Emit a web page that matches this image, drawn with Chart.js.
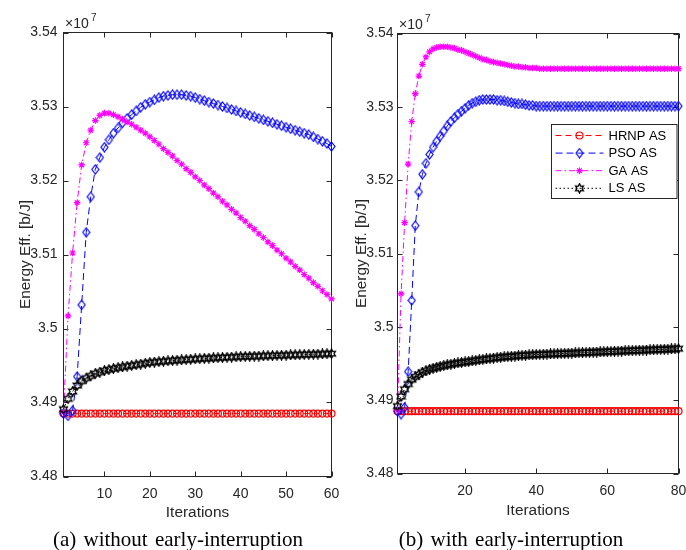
<!DOCTYPE html>
<html>
<head>
<meta charset="utf-8">
<script src="https://cdn.jsdelivr.net/npm/chart.js@4.4.1/dist/chart.umd.min.js"></script>
<style>
  body { margin: 0; background: #fff; }
  #page { position: relative; width: 686px; height: 550px; overflow: hidden; background: #fff; }
  #page canvas { position: absolute; top: 0; }
  #chartA { left: 0; }
  #chartB { left: 343px; }
  .caption {
    position: absolute; top: 529px; width: 300px;
    font-family: "Liberation Serif", "Times New Roman", serif;
    font-size: 21px; line-height: 21px; word-spacing: 2px;
    white-space: nowrap; text-align: center; color: #000;
  }
</style>
</head>
<body>
<div id="page">
  <canvas id="chartA" width="343" height="550"></canvas>
  <canvas id="chartB" width="343" height="550"></canvas>
  <div class="caption" style="left:28px">(a) without early-interruption</div>
  <div class="caption" style="left:361px">(b) with early-interruption</div>
</div>
<script>
// values in units of 1e7 b/J
const seriesNames = ['HRNP AS', 'PSO AS', 'GA AS', 'LS AS'];

const yTicks = [3.48, 3.49, 3.50, 3.51, 3.52, 3.53, 3.54];
const yTickLabels = ['3.48', '3.49', '3.5', '3.51', '3.52', '3.53', '3.54'];
const xTicksA = [10, 20, 30, 40, 50, 60];
const xTickLabelsA = ['10', '20', '30', '40', '50', '60'];
const xTicksB = [20, 40, 60, 80];
const xTickLabelsB = ['20', '40', '60', '80'];

// (a) without early-interruption, 60 iterations
const hrnpA = [
  3.4885, 3.4885, 3.4885, 3.4885, 3.4885, 3.4885, 3.4885, 3.4885, 3.4885, 3.4885,
  3.4885, 3.4885, 3.4885, 3.4885, 3.4885, 3.4885, 3.4885, 3.4885, 3.4885, 3.4885,
  3.4885, 3.4885, 3.4885, 3.4885, 3.4885, 3.4885, 3.4885, 3.4885, 3.4885, 3.4885,
  3.4885, 3.4885, 3.4885, 3.4885, 3.4885, 3.4885, 3.4885, 3.4885, 3.4885, 3.4885,
  3.4885, 3.4885, 3.4885, 3.4885, 3.4885, 3.4885, 3.4885, 3.4885, 3.4885, 3.4885,
  3.4885, 3.4885, 3.4885, 3.4885, 3.4885, 3.4885, 3.4885, 3.4885, 3.4885, 3.4885
];
const psoA = [
  3.4885, 3.4882, 3.4889, 3.4935, 3.5032, 3.5130, 3.5178, 3.5215, 3.5231, 3.5245,
  3.5255, 3.5264, 3.5271, 3.5278, 3.5284, 3.5289, 3.5294, 3.5299, 3.5303, 3.5306,
  3.5309, 3.5312, 3.5314, 3.5315, 3.5316, 3.5316, 3.5316, 3.5315, 3.5314, 3.5312,
  3.5310, 3.5308, 3.5306, 3.5304, 3.5302, 3.5300, 3.5298, 3.5296, 3.5294, 3.5292,
  3.5290, 3.5288, 3.5286, 3.5284, 3.5282, 3.5280, 3.5278, 3.5276, 3.5274, 3.5272,
  3.5270, 3.5268, 3.5266, 3.5264, 3.5262, 3.5259, 3.5256, 3.5253, 3.5250, 3.5246
];
const gaA = [
  3.4887, 3.5017, 3.5102, 3.5170, 3.5221, 3.5251, 3.5268, 3.5281, 3.5288, 3.5291,
  3.5291, 3.5289, 3.5286, 3.5283, 3.5279, 3.5276, 3.5272, 3.5268, 3.5264, 3.5259,
  3.5254, 3.5249, 3.5243, 3.5238, 3.5233, 3.5227, 3.5222, 3.5216, 3.5211, 3.5205,
  3.5200, 3.5194, 3.5189, 3.5183, 3.5178, 3.5172, 3.5167, 3.5161, 3.5156, 3.5150,
  3.5145, 3.5139, 3.5134, 3.5128, 3.5123, 3.5117, 3.5112, 3.5106, 3.5101, 3.5095,
  3.5090, 3.5084, 3.5079, 3.5073, 3.5068, 3.5062, 3.5057, 3.5051, 3.5046, 3.5040
];
const lsA = [
  3.4891, 3.4905, 3.4915, 3.4923, 3.4929, 3.4933, 3.4936, 3.4939, 3.4941, 3.4943,
  3.49445, 3.49458, 3.49470, 3.49481, 3.49491, 3.49500, 3.49510, 3.49520, 3.49530, 3.49540,
  3.49546, 3.49552, 3.49557, 3.49562, 3.49567, 3.49572, 3.49576, 3.49580, 3.49584, 3.49588,
  3.49592, 3.49596, 3.49599, 3.49602, 3.49605, 3.49608, 3.49611, 3.49614, 3.49617, 3.49620,
  3.49622, 3.49624, 3.49626, 3.49628, 3.49630, 3.49632, 3.49634, 3.49636, 3.49638, 3.49640,
  3.49642, 3.49644, 3.49646, 3.49648, 3.49650, 3.49652, 3.49654, 3.49656, 3.49658, 3.49660
];

// (b) with early-interruption, 80 iterations
const hrnpB = [
  3.4885, 3.4885, 3.4885, 3.4885, 3.4885, 3.4885, 3.4885, 3.4885, 3.4885, 3.4885,
  3.4885, 3.4885, 3.4885, 3.4885, 3.4885, 3.4885, 3.4885, 3.4885, 3.4885, 3.4885,
  3.4885, 3.4885, 3.4885, 3.4885, 3.4885, 3.4885, 3.4885, 3.4885, 3.4885, 3.4885,
  3.4885, 3.4885, 3.4885, 3.4885, 3.4885, 3.4885, 3.4885, 3.4885, 3.4885, 3.4885,
  3.4885, 3.4885, 3.4885, 3.4885, 3.4885, 3.4885, 3.4885, 3.4885, 3.4885, 3.4885,
  3.4885, 3.4885, 3.4885, 3.4885, 3.4885, 3.4885, 3.4885, 3.4885, 3.4885, 3.4885,
  3.4885, 3.4885, 3.4885, 3.4885, 3.4885, 3.4885, 3.4885, 3.4885, 3.4885, 3.4885,
  3.4885, 3.4885, 3.4885, 3.4885, 3.4885, 3.4885, 3.4885, 3.4885, 3.4885, 3.4885
];
const psoB = [
  3.4885, 3.4881, 3.4890, 3.4939, 3.5036, 3.5138, 3.5184, 3.5208, 3.5223, 3.5235,
  3.5245, 3.5253, 3.5260, 3.5267, 3.5274, 3.5280, 3.5285, 3.5290, 3.5294, 3.5298,
  3.5302, 3.5305, 3.5307, 3.5309, 3.5310, 3.5310, 3.5310, 3.5310, 3.5309, 3.5309,
  3.5308, 3.5307, 3.5306, 3.5305, 3.5304, 3.5304, 3.5303, 3.5302, 3.5302, 3.5301,
  3.5301, 3.5301, 3.5301, 3.5301, 3.5301, 3.5301, 3.5301, 3.5301, 3.5301, 3.5301,
  3.5301, 3.5301, 3.5301, 3.5301, 3.5301, 3.5301, 3.5301, 3.5301, 3.5301, 3.5301,
  3.5301, 3.5301, 3.5301, 3.5301, 3.5301, 3.5301, 3.5301, 3.5301, 3.5301, 3.5301,
  3.5301, 3.5301, 3.5301, 3.5301, 3.5301, 3.5301, 3.5301, 3.5301, 3.5301, 3.5301
];
const gaB = [
  3.4886, 3.5045, 3.5142, 3.5222, 3.5280, 3.5318, 3.5342, 3.5358, 3.5368, 3.5375,
  3.5379, 3.5381, 3.5382, 3.5382, 3.5382, 3.5381, 3.5380, 3.5378, 3.5377, 3.5375,
  3.5373, 3.5371, 3.5369, 3.5367, 3.5365, 3.5364, 3.5362, 3.5361, 3.5360, 3.5359,
  3.5358, 3.5357, 3.5356, 3.5355, 3.5355, 3.5354, 3.5354, 3.5353, 3.5353, 3.5353,
  3.5352, 3.5352, 3.5352, 3.5352, 3.5352, 3.5352, 3.5352, 3.5352, 3.5352, 3.5352,
  3.5352, 3.5352, 3.5352, 3.5352, 3.5352, 3.5352, 3.5352, 3.5352, 3.5352, 3.5352,
  3.5352, 3.5352, 3.5352, 3.5352, 3.5352, 3.5352, 3.5352, 3.5352, 3.5352, 3.5352,
  3.5352, 3.5352, 3.5352, 3.5352, 3.5352, 3.5352, 3.5352, 3.5352, 3.5352, 3.5352
];
const lsB = [
  3.4892, 3.4905, 3.4915, 3.4922, 3.4928, 3.4932, 3.4935, 3.4938, 3.4940, 3.4942,
  3.49435, 3.49448, 3.49460, 3.49471, 3.49481, 3.49490, 3.49499, 3.49507, 3.49514, 3.49521,
  3.49528, 3.49535, 3.49542, 3.49549, 3.49556, 3.49562, 3.49568, 3.49574, 3.49580, 3.49586,
  3.49590, 3.49594, 3.49598, 3.49602, 3.49606, 3.49610, 3.49613, 3.49616, 3.49619, 3.49622,
  3.49624, 3.49626, 3.49628, 3.49630, 3.49632, 3.49634, 3.49636, 3.49638, 3.49640, 3.49642,
  3.49644, 3.49646, 3.49648, 3.49650, 3.49652, 3.49654, 3.49656, 3.49658, 3.49660, 3.49662,
  3.49664, 3.49666, 3.49668, 3.49670, 3.49672, 3.49674, 3.49676, 3.49678, 3.49680, 3.49682,
  3.49684, 3.49686, 3.49688, 3.49690, 3.49692, 3.49694, 3.49696, 3.49698, 3.49700, 3.49702
];

const SANS = '"Liberation Sans", Arial, Helvetica, sans-serif';
const AXIS_COLOR = '#262626';

// matlab-ish markers that chart.js does not have
function diamondMark(color) {
  let c = document.createElement('canvas');
  c.width = 9; c.height = 11;
  let g = c.getContext('2d');
  g.strokeStyle = color; g.lineWidth = 1.2;
  g.beginPath();
  g.moveTo(4.5, 1); g.lineTo(8, 5.5); g.lineTo(4.5, 10); g.lineTo(1, 5.5);
  g.closePath(); g.stroke();
  return c;
}
function hexagramMark(color) {
  let c = document.createElement('canvas');
  c.width = 11; c.height = 11;
  let g = c.getContext('2d');
  g.strokeStyle = color; g.lineWidth = 1.3;
  g.beginPath();
  for (let k = 0; k < 12; k++) {
    let r = k % 2 ? 2.5 : 4.6;
    let a = (-90 + k * 30) * Math.PI / 180;
    let px = 5.5 + r * Math.cos(a), py = 5.5 + r * Math.sin(a);
    if (k) g.lineTo(px, py); else g.moveTo(px, py);
  }
  g.closePath(); g.stroke();
  return c;
}

function toPoints(arr) {
  return arr.map((v, i) => ({ x: i + 1, y: v }));
}

function makeDatasets(hrnp, pso, ga, ls) {
  return [
    { label: seriesNames[0], data: toPoints(hrnp), borderColor: '#ff0000', backgroundColor: 'rgba(0,0,0,0)',
      borderDash: [6, 4], pointStyle: 'circle', pointRadius: 3.5, order: 3 },
    { label: seriesNames[1], data: toPoints(pso), borderColor: '#0000ff', backgroundColor: 'rgba(0,0,0,0)',
      borderDash: [7, 4], pointStyle: diamondMark('#0000ff'), pointRadius: 4, order: 2 },
    { label: seriesNames[2], data: toPoints(ga), borderColor: '#ff00ff', backgroundColor: 'rgba(0,0,0,0)',
      borderDash: [6, 3, 1.5, 3], pointStyle: 'star', pointRadius: 3.3, order: 1 },
    { label: seriesNames[3], data: toPoints(ls), borderColor: '#000000', backgroundColor: 'rgba(0,0,0,0)',
      borderDash: [1.5, 2.5], pointStyle: hexagramMark('#000000'), pointRadius: 4, order: 0 },
  ];
}

// box + inward ticks on all four sides
const framePlugin = {
  id: 'frame',
  beforeDatasetsDraw(chart) {
    const { ctx, chartArea: a, scales: { x, y } } = chart;
    ctx.save();
    ctx.strokeStyle = AXIS_COLOR;
    ctx.lineWidth = 1;
    ctx.strokeRect(a.left, a.top, a.right - a.left, a.bottom - a.top);
    ctx.beginPath();
    for (let t of x.ticks) {
      let px = Math.round(x.getPixelForValue(t.value)) + 0.5;
      ctx.moveTo(px, a.bottom); ctx.lineTo(px, a.bottom - 5);
      ctx.moveTo(px, a.top); ctx.lineTo(px, a.top + 5);
    }
    for (let t of y.ticks) {
      let py = Math.round(y.getPixelForValue(t.value)) + 0.5;
      ctx.moveTo(a.left, py); ctx.lineTo(a.left + 5, py);
      ctx.moveTo(a.right, py); ctx.lineTo(a.right - 5, py);
    }
    ctx.stroke();
    ctx.restore();
  }
};

// "x10^7" above the y axis
const exponentPlugin = {
  id: 'exponent',
  afterDraw(chart) {
    const { ctx, chartArea: a } = chart;
    ctx.save();
    ctx.fillStyle = AXIS_COLOR;
    ctx.textAlign = 'left';
    ctx.textBaseline = 'alphabetic';
    ctx.font = '14px ' + SANS;
    ctx.fillText('\u00d710', a.left + 1.5, a.top - 5);
    ctx.font = '10px ' + SANS;
    ctx.fillText('7', a.left + 27.5, a.top - 12);
    ctx.restore();
  }
};

// matlab style legend box, only on the right panel
const boxLegendPlugin = {
  id: 'boxLegend',
  afterDraw(chart, args, opts) {
    if (!opts.show) return;
    const { ctx, chartArea: a } = chart;
    const w = 125.5, h = 74;
    const x0 = Math.round(a.right - 2.5 - w) + 0.5, y0 = Math.round(a.top + 90.5) + 0.5;
    ctx.save();
    ctx.fillStyle = '#ffffff';
    ctx.fillRect(x0, y0, w, h);
    ctx.strokeStyle = AXIS_COLOR;
    ctx.lineWidth = 1;
    ctx.strokeRect(x0, y0, w, h);
    chart.data.datasets.forEach((ds, i) => {
      let cy = y0 + 11 + i * 17.6;
      ctx.strokeStyle = ds.borderColor;
      ctx.lineWidth = 1;
      ctx.setLineDash(ds.borderDash);
      ctx.beginPath();
      ctx.moveTo(x0 + 4, cy); ctx.lineTo(x0 + 52, cy);
      ctx.stroke();
      ctx.setLineDash([]);
      ctx.fillStyle = 'rgba(0,0,0,0)';
      ctx.lineWidth = 1.2;
      Chart.helpers.drawPoint(ctx, { pointStyle: ds.pointStyle, radius: ds.pointRadius, borderWidth: 1.2, rotation: 0 }, x0 + 28, cy);
      ctx.fillStyle = '#000';
      ctx.font = '13px ' + SANS;
      ctx.textAlign = 'left';
      ctx.textBaseline = 'middle';
      ctx.fillText(ds.label, x0 + 57, cy + 0.5);
    });
    ctx.restore();
  }
};

function buildChart(id, g) {
  const config = {
    type: 'line',
    data: { datasets: makeDatasets(g.hrnp, g.pso, g.ga, g.ls) },
    options: {
      responsive: false,
      animation: false,
      devicePixelRatio: 1,
      clip: false,
      layout: { padding: { left: 0, right: g.padRight, top: g.padTop, bottom: 0 } },
      elements: {
        line: { borderWidth: 1, tension: 0, fill: false },
        point: { borderWidth: 1.2, hoverRadius: 4 }
      },
      plugins: {
        legend: { display: false },
        tooltip: { enabled: false },
        boxLegend: { show: g.legend }
      },
      scales: {
        x: {
          type: 'linear',
          min: 1,
          max: g.xMax,
          grid: { display: false, drawTicks: false },
          border: { display: false },
          afterBuildTicks: s => { s.ticks = g.xTicks.map(v => ({ value: v })); },
          afterFit: s => { s.height = g.xHeight; s.paddingLeft = 0; s.paddingRight = 0; },
          ticks: {
            autoSkip: false, maxRotation: 0, padding: g.xTickPad,
            color: AXIS_COLOR, font: { family: SANS, size: 14 },
            callback: (v, i) => g.xLabels[i]
          },
          title: {
            display: true, text: 'Iterations', color: AXIS_COLOR,
            font: { family: SANS, size: 15.4 },
            padding: { top: 0, bottom: g.xTitlePad }
          }
        },
        y: {
          type: 'linear',
          min: 3.48,
          max: 3.54,
          grid: { display: false, drawTicks: false },
          border: { display: false },
          afterBuildTicks: s => { s.ticks = yTicks.map(v => ({ value: v })); },
          afterFit: s => { s.width = g.yWidth; s.paddingTop = 0; s.paddingBottom = 0; },
          ticks: {
            autoSkip: false, padding: g.yTickPad,
            color: AXIS_COLOR, font: { family: SANS, size: 14 },
            callback: (v, i) => yTickLabels[i]
          },
          title: {
            display: true, text: 'Energy Eff. [b/J]', color: AXIS_COLOR,
            font: { family: SANS, size: 15.4 },
            padding: { top: g.yTitlePad, bottom: 0 }
          }
        }
      }
    },
    plugins: [framePlugin, exponentPlugin, boxLegendPlugin]
  };
  config.data.datasets.forEach(ds => { ds.clip = false; });
  return new Chart(document.getElementById(id), config);
}

buildChart('chartA', {
  hrnp: hrnpA, pso: psoA, ga: gaA, ls: lsA,
  xMax: 60, xTicks: xTicksA, xLabels: xTickLabelsA,
  padRight: 11.5, padTop: 32.5, xHeight: 73.5, yWidth: 63.5,
  xTickPad: 9, xTitlePad: 28.5, yTickPad: 6, yTitlePad: 17, legend: false
});
buildChart('chartB', {
  hrnp: hrnpB, pso: psoB, ga: gaB, ls: lsB,
  xMax: 80, xTicks: xTicksB, xLabels: xTickLabelsB,
  padRight: 7.5, padTop: 33.5, xHeight: 76.5, yWidth: 54.5,
  xTickPad: 9, xTitlePad: 30, yTickPad: 4, yTitlePad: 10, legend: true
});
</script>
</body>
</html>
